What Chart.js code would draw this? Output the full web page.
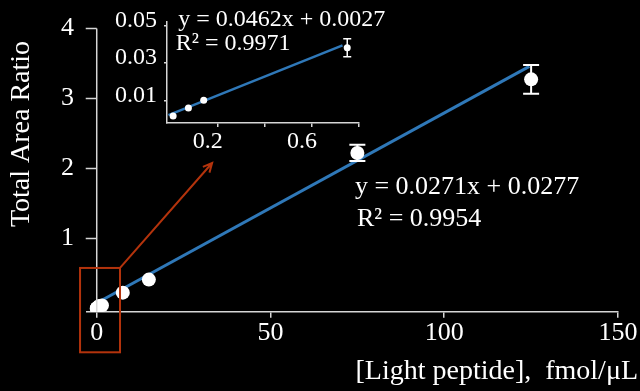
<!DOCTYPE html>
<html><head><meta charset="utf-8">
<script src="https://cdn.jsdelivr.net/npm/chart.js@4/dist/chart.umd.min.js"></script>
<style>
html,body{margin:0;padding:0;background:#000;}
#wrap{position:relative;width:640px;height:391px;background:#000;}
#main{position:absolute;left:0;top:0;}
#inset{position:absolute;left:100px;top:0;}
</style></head><body>
<div id="wrap"><canvas id="main" width="640" height="391"></canvas><canvas id="inset" width="300" height="160"></canvas></div>
<script>
// ---- data ----
const concentrations = [0.01, 0.075, 0.14, 0.75, 1.5, 7.5, 15, 75, 125];
const areaRatios     = [0.0016, 0.0059, 0.010, 0.038, 0.045, 0.227, 0.414, 2.223, 3.275];
// error bars: 0 where no bar is visible in the picture
const areaErrors     = [0, 0, 0, 0.0048, 0, 0, 0, 0.116, 0.205];
const mainFitX = [0, 124.5];
const mainFitY = [0.08, 3.46];
const insetCount = 4;               // first four points shown in the inset
const insetFitX = [-0.01, 0.73];
const insetFitY = [0.0021, 0.0393];
const mainXTicks = [0, 50, 100, 150];
const mainYTicks = [1, 2, 3, 4];
const insetXTicks = [0.2, 0.4, 0.6, 0.8];
const insetXLabels = [0.2, 0.6];
const insetYTicks = [0.01, 0.03, 0.05];
const mainEquation = ['y = 0.0271x + 0.0277', 'R\u00B2 = 0.9954'];
const insetEquation = ['y = 0.0462x + 0.0027', 'R\u00B2 = 0.9971'];
const xTitle = '[Light peptide],  fmol/\u03BCL';
const yTitle = 'Total Area Ratio';

// ---- styling ----
const FONT = "'Liberation Serif', 'Times New Roman', serif";
const AXIS = '#d6d6d6';
const BLUE = '#2f78b8';
const RED = '#b3330c';
const TXT = '#ffffff';

// annotation anchors in data coordinates
const mainEqPos = [[74.3, 1.73], [74.9, 1.28]];
const insetEqPos = [[0.032, 0.0532], [0.021, 0.040]];
const zoomBox = {x0: -4.8, x1: 6.7, y0: -0.625, y1: 0.58};
const arrowTip = [33.2, 2.08];

function errorBars(datasetIndex, errs, cap, width) {
  return {
    id: 'err' + datasetIndex,
    afterDatasetsDraw(chart) {
      const ctx = chart.ctx, xs = chart.scales.x, ys = chart.scales.y;
      const pts = chart.data.datasets[datasetIndex].data;
      ctx.save();
      ctx.strokeStyle = '#ffffff';
      ctx.lineWidth = width;
      pts.forEach((p, i) => {
        const e = errs[i];
        if (!e) return;
        const px = xs.getPixelForValue(p.x);
        const yt = ys.getPixelForValue(p.y + e), yb = ys.getPixelForValue(p.y - e);
        ctx.beginPath();
        ctx.moveTo(px, yt); ctx.lineTo(px, yb);
        ctx.moveTo(px - cap, yt); ctx.lineTo(px + cap, yt);
        ctx.moveTo(px - cap, yb); ctx.lineTo(px + cap, yb);
        ctx.stroke();
      });
      ctx.restore();
    }
  };
}

const mainOverlay = {
  id: 'mainOverlay',
  afterDatasetsDraw(chart) {
    const ctx = chart.ctx, xs = chart.scales.x, ys = chart.scales.y;
    const x0 = xs.getPixelForValue(0);
    ctx.save();
    // y axis drawn at x = 0
    ctx.strokeStyle = AXIS; ctx.lineWidth = 1.5;
    ctx.beginPath();
    ctx.moveTo(x0, ys.getPixelForValue(4)); ctx.lineTo(x0, chart.chartArea.bottom);
    mainYTicks.forEach(v => { const py = ys.getPixelForValue(v); ctx.moveTo(x0 - 11, py); ctx.lineTo(x0, py); });
    ctx.stroke();
    // zoom box and arrow
    ctx.strokeStyle = RED; ctx.lineWidth = 2;
    const bx0 = xs.getPixelForValue(zoomBox.x0), bx1 = xs.getPixelForValue(zoomBox.x1);
    const by0 = ys.getPixelForValue(zoomBox.y0), by1 = ys.getPixelForValue(zoomBox.y1);
    ctx.strokeRect(bx0, by1, bx1 - bx0, by0 - by1);
    const ax = xs.getPixelForValue(arrowTip[0]), ay = ys.getPixelForValue(arrowTip[1]);
    ctx.beginPath(); ctx.moveTo(bx1, by1); ctx.lineTo(ax, ay);
    const ang = Math.atan2(ay - by1, ax - bx1);
    const hl = 10;
    ctx.moveTo(ax - hl * Math.cos(ang - 0.45), ay - hl * Math.sin(ang - 0.45)); ctx.lineTo(ax, ay);
    ctx.lineTo(ax - hl * Math.cos(ang + 0.45), ay - hl * Math.sin(ang + 0.45));
    ctx.stroke();
    // equation text
    ctx.fillStyle = TXT; ctx.font = '26px ' + FONT; ctx.textBaseline = 'middle'; ctx.textAlign = 'left';
    mainEquation.forEach((t, i) => ctx.fillText(t, xs.getPixelForValue(mainEqPos[i][0]), ys.getPixelForValue(mainEqPos[i][1])));
    // axis titles
    ctx.font = '28px ' + FONT;
    ctx.textAlign = 'right';
    ctx.fillText(xTitle, 638, 372);
    ctx.translate(22, 134); ctx.rotate(-Math.PI / 2); ctx.textAlign = 'center';
    ctx.fillText(yTitle, 0, 0);
    ctx.restore();
  }
};

const insetOverlay = {
  id: 'insetOverlay',
  afterDatasetsDraw(chart) {
    const ctx = chart.ctx, xs = chart.scales.x, ys = chart.scales.y;
    ctx.save();
    ctx.fillStyle = TXT; ctx.font = '24px ' + FONT; ctx.textBaseline = 'middle'; ctx.textAlign = 'left';
    insetEquation.forEach((t, i) => ctx.fillText(t, xs.getPixelForValue(insetEqPos[i][0]), ys.getPixelForValue(insetEqPos[i][1])));
    ctx.restore();
  }
};

const mainPts = concentrations.map((x, i) => ({x, y: areaRatios[i]}));
new Chart(document.getElementById('main'), {
  type: 'scatter',
  data: {datasets: [
    {label: 'Fit', type: 'line', data: mainFitX.map((x, i) => ({x, y: mainFitY[i]})), borderColor: BLUE, borderWidth: 3, pointRadius: 0, fill: false, order: 2},
    {label: 'Total area ratio', data: mainPts, pointRadius: 7, backgroundColor: '#ffffff', borderColor: '#ffffff', borderWidth: 0, order: 1}
  ]},
  options: {
    responsive: false, animation: false, devicePixelRatio: 1,
    layout: {padding: {left: 0, top: 23.3, right: 22, bottom: 0}},
    plugins: {legend: {display: false}, tooltip: {enabled: false}},
    scales: {
      x: {type: 'linear', min: -2.8, max: 150,
        afterBuildTicks: s => { s.ticks = mainXTicks.map(v => ({value: v})); },
        afterFit: s => { s.height = 79.3; },
        grid: {drawOnChartArea: false, tickLength: 6, color: AXIS, lineWidth: 1.5},
        border: {color: AXIS, width: 1.5},
        ticks: {color: TXT, font: {family: FONT, size: 26}, padding: 0, maxRotation: 0, autoSkip: false}},
      y: {type: 'linear', min: -0.045, max: 4,
        afterBuildTicks: s => { s.ticks = mainYTicks.map(v => ({value: v})); },
        afterFit: s => { s.width = 87; },
        grid: {display: false, drawTicks: false},
        border: {display: false},
        ticks: {color: TXT, font: {family: FONT, size: 26}, padding: 13}}
    }
  },
  plugins: [errorBars(1, areaErrors, 8, 2), mainOverlay]
});

const insetPts = mainPts.slice(0, insetCount);
new Chart(document.getElementById('inset'), {
  type: 'scatter',
  data: {datasets: [
    {label: 'Fit', type: 'line', data: insetFitX.map((x, i) => ({x, y: insetFitY[i]})), borderColor: BLUE, borderWidth: 2.5, pointRadius: 0, fill: false, order: 2},
    {label: 'Total area ratio', data: insetPts, pointRadius: 3.5, backgroundColor: '#ffffff', borderColor: '#ffffff', borderWidth: 0, order: 1}
  ]},
  options: {
    responsive: false, animation: false, devicePixelRatio: 1,
    layout: {padding: {left: 0, top: 20, right: 41, bottom: 0}},
    plugins: {legend: {display: false}, tooltip: {enabled: false}},
    scales: {
      x: {type: 'linear', min: -0.016, max: 0.8,
        afterBuildTicks: s => { s.ticks = insetXTicks.map(v => ({value: v})); },
        afterFit: s => { s.height = 37; },
        grid: {drawOnChartArea: false, tickLength: 4, color: AXIS, lineWidth: 1.5},
        border: {color: AXIS, width: 1.5},
        ticks: {color: TXT, font: {family: FONT, size: 24}, padding: 0, maxRotation: 0, autoSkip: false, labelOffset: -10,
          callback: v => insetXLabels.includes(v) ? String(v) : ''}},
      y: {type: 'linear', min: -0.0021, max: 0.0521,
        afterBuildTicks: s => { s.ticks = insetYTicks.map(v => ({value: v})); },
        afterFit: s => { s.width = 67; },
        grid: {drawOnChartArea: false, tickLength: 3, color: AXIS, lineWidth: 1.5},
        border: {color: AXIS, width: 1.5},
        ticks: {color: TXT, font: {family: FONT, size: 24}, padding: 7, labelOffset: -5,
          callback: v => String(v)}}
    }
  },
  plugins: [errorBars(1, insetPts.map((p, i) => areaErrors[i]), 4, 1.5), insetOverlay]
});
</script>
</body></html>
